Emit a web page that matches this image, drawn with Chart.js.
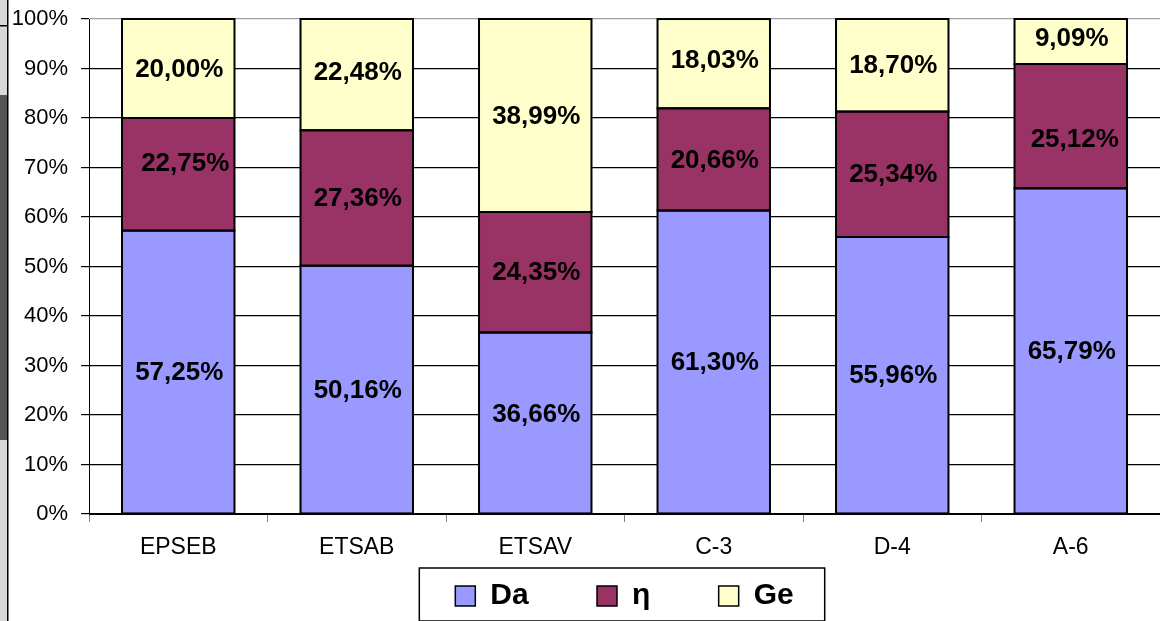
<!DOCTYPE html>
<html>
<head>
<meta charset="utf-8">
<script src="https://cdn.jsdelivr.net/npm/chart.js@4/dist/chart.umd.min.js"></script>
<style>
  html, body { margin: 0; padding: 0; background: #fff; }
  #wrap { width: 1160px; height: 621px; position: relative; }
</style>
</head>
<body>
<div id="wrap"><canvas id="chart"></canvas></div>
<script>
// categories and series (percent of each bar)
const categories = ['EPSEB', 'ETSAB', 'ETSAV', 'C-3', 'D-4', 'A-6'];
const daValues = [57.25, 50.16, 36.66, 61.30, 55.96, 65.79];
const etaValues = [22.75, 27.36, 24.35, 20.66, 25.34, 25.12];
const geValues = [20.00, 22.48, 38.99, 18.03, 18.70, 9.09];
const yTicks = [0, 10, 20, 30, 40, 50, 60, 70, 80, 90, 100];

const FONT = 'Arial, "Liberation Sans", sans-serif';
const PAD = '       '; // extra space after legend text

// a few labels sit a little off the segment centre in the original
const labelNudge = {
    '0-2': [0, -9],
    '1-0': [6, -11],
    '1-5': [3, 13],
    '2-1': [0, -3],
    '2-3': [0, -4],
    '2-5': [0, -4]
};

// outline every segment and write its value in the middle
const segments = {
    id: 'segments',
    afterDatasetsDraw(chart) {
        const ctx = chart.ctx;
        ctx.save();
        ctx.strokeStyle = '#000';
        ctx.lineWidth = 2;
        chart.data.datasets.forEach((ds, di) => {
            chart.getDatasetMeta(di).data.forEach(bar => {
                const p = bar.getProps(['x', 'y', 'base', 'width'], true);
                ctx.strokeRect(p.x - p.width / 2, p.y, p.width, p.base - p.y);
            });
        });
        ctx.font = 'bold 26px ' + FONT;
        ctx.fillStyle = '#000';
        ctx.textAlign = 'center';
        ctx.textBaseline = 'middle';
        chart.data.datasets.forEach((ds, di) => {
            chart.getDatasetMeta(di).data.forEach((bar, i) => {
                const p = bar.getProps(['x', 'y', 'base'], true);
                const n = labelNudge[di + '-' + i] || [0, 0];
                const txt = ds.data[i].toFixed(2).replace('.', ',') + '%';
                ctx.fillText(txt, p.x + 1 + n[0], (p.y + p.base) / 2 + 1 + n[1]);
            });
        });
        ctx.restore();
    }
};

// frame round the legend and the scrap of background on the left
const frames = {
    id: 'frames',
    afterDraw(chart) {
        const ctx = chart.ctx;
        const boxes = chart.legend.legendHitBoxes;
        if (boxes && boxes.length) {
            const first = boxes[0];
            const last = boxes[boxes.length - 1];
            ctx.save();
            ctx.strokeStyle = '#000';
            ctx.lineWidth = 1.5;
            const x0 = first.left - 36;
            const x1 = last.left + last.width + 31;
            const y0 = first.top - 13;
            const y1 = first.top + first.height + 10;
            ctx.strokeRect(x0, y0, x1 - x0, y1 - y0);
            ctx.restore();
        }
        ctx.save();
        ctx.fillStyle = '#d8d8d8';
        ctx.fillRect(0, 0, 7, 621);
        ctx.fillStyle = '#555';
        ctx.fillRect(0, 95, 7, 345);
        ctx.fillStyle = '#000';
        ctx.fillRect(7, 0, 1.5, 621);
        ctx.fillRect(0, 25, 8, 1.5);
        ctx.restore();
    }
};

new Chart(document.getElementById('chart'), {
    type: 'bar',
    data: {
        labels: categories,
        datasets: [
            { label: 'Da' + PAD, data: daValues, backgroundColor: '#9999FF' },
            { label: 'η' + PAD, data: etaValues, backgroundColor: '#993366' },
            { label: 'Ge', data: geValues, backgroundColor: '#FFFFCC' }
        ].map(d => Object.assign(d, {
            borderWidth: 0,
            inflateAmount: 0,
            barPercentage: 0.63,
            categoryPercentage: 1
        }))
    },
    options: {
        responsive: true,
        maintainAspectRatio: false,
        animation: false,
        layout: { padding: { top: 19, right: 0, bottom: 0, left: 0 } },
        plugins: {
            tooltip: { enabled: false },
            legend: {
                position: 'bottom',
                fullSize: false,
                labels: {
                    color: '#000',
                    font: { family: FONT, size: 30, weight: 'bold' },
                    boxWidth: 20,
                    boxHeight: 20,
                    padding: 10,
                    generateLabels(chart) {
                        const items = Chart.defaults.plugins.legend.labels.generateLabels(chart);
                        return items.map(it => Object.assign(it, { strokeStyle: '#000', lineWidth: 1.5 }));
                    }
                }
            }
        },
        scales: {
            x: {
                stacked: true,
                afterFit(scale) { scale.height = 57; },
                border: { color: '#000', width: 1 },
                grid: {
                    display: true,
                    offset: true,
                    drawOnChartArea: false,
                    tickLength: 8,
                    color: '#808080'
                },
                ticks: {
                    color: '#000',
                    padding: 12,
                    font: { family: FONT, size: 23 }
                }
            },
            y: {
                stacked: true,
                min: 0,
                max: 100,
                afterFit(scale) {
                    scale.width = 89;
                    scale.paddingTop = 0;
                    scale.paddingBottom = 0;
                },
                afterBuildTicks(scale) { scale.ticks = yTicks.map(v => ({ value: v })); },
                border: { color: '#000', width: 1 },
                grid: {
                    color: c => (c.tick && c.tick.value === 100) ? '#a0a0a0' : '#000',
                    tickColor: '#000',
                    tickLength: 8,
                    lineWidth: 1.2
                },
                ticks: {
                    color: '#000',
                    padding: 13,
                    font: { family: FONT, size: 22 },
                    callback: v => v + '%'
                }
            }
        }
    },
    plugins: [segments, frames]
});
</script>
</body>
</html>
